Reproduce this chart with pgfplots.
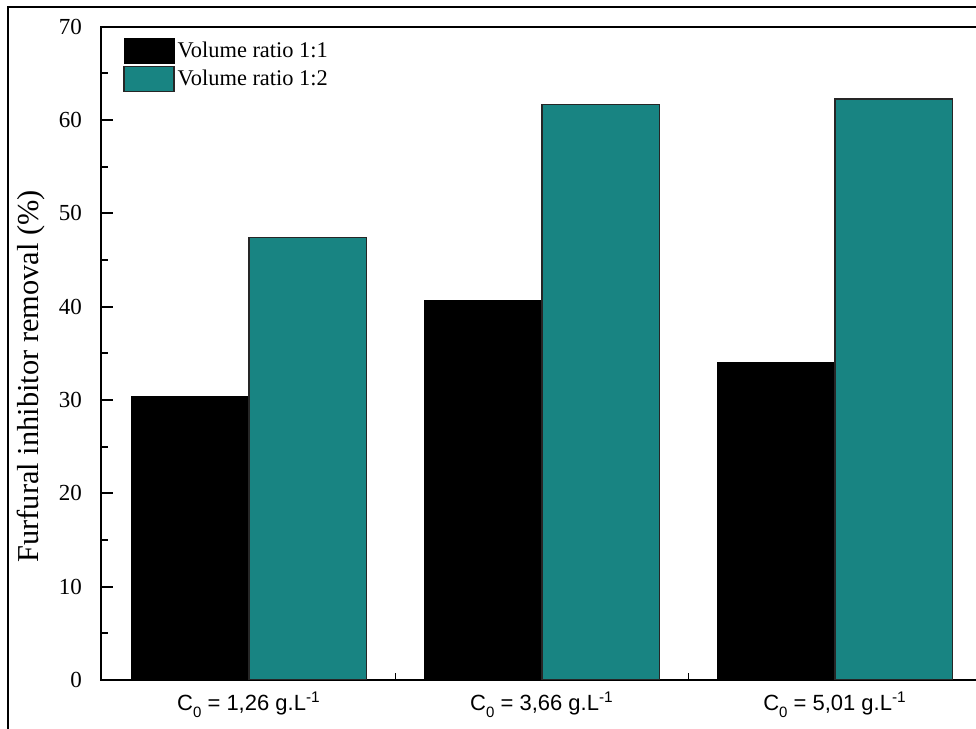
\documentclass[border=0pt]{standalone}
\usepackage{fontspec}
\setmainfont{Liberation Serif}
\newfontfamily\arialf{Liberation Sans}
\usepackage{pgfplots}
\pgfplotsset{compat=1.18}
\definecolor{tealbar}{RGB}{24,132,130}
\newcommand{\sub}[1]{\raisebox{-0.55ex}{\fontsize{7.5}{8}\selectfont #1}}
\begin{document}
\begin{tikzpicture}
\begin{axis}[
  at={(50.5pt,24.5pt)}, anchor=south west,
  scale only axis, width=441pt, height=326.67pt,
  xmin=-0.505, xmax=2.505, ymin=0, ymax=70,
  axis line style={line width=1pt},
  every tick/.style={line width=0.9pt, black},
  tick align=inside,
  major tick length=6pt, minor tick length=3.5pt,
  xtick={0,1,2},
  minor xtick={0.5,1.5},
  xtick pos=bottom, ytick pos=left,
  xticklabels={{\arialf C\sub{0} = 1,26 g.L\textsuperscript{-1}},{\arialf C\sub{0} = 3,66 g.L\textsuperscript{-1}},{\arialf C\sub{0} = 5,01 g.L\textsuperscript{-1}}},
  ytick={0,10,...,70},
  minor ytick={5,15,...,65},
  /pgf/number format/assume math mode=true,
  yticklabel style={font=\fontsize{11.5}{13}\selectfont, xshift=-6pt},
  xticklabel style={font=\fontsize{11}{13}\selectfont, yshift=-2.5pt},
  ylabel={Furfural inhibitor removal (\%)},
  every axis y label/.style={at={(axis description cs:-0.0794,0.465)}, rotate=90, anchor=center, font=\fontsize{15.2}{17}\selectfont},
  legend cell align=left,
  legend style={at={(axis description cs:0.025,0.983)}, anchor=north west, draw=none, fill=none, inner sep=0pt, row sep=1pt, font=\fontsize{11.2}{13}\selectfont, nodes={inner sep=1.5pt}},
  legend image code/.code={\draw[#1] (0pt,-6.25pt) rectangle (25pt,6.25pt);},
  bar width=0.4,
]
\addplot[ybar, bar shift=-0.2, fill=black, draw=black, line width=0.5pt] coordinates {(0,30.35) (1,40.7) (2,34.0)};
\addlegendentry{Volume ratio 1:1}
\addplot[ybar, bar shift=0.2, fill=tealbar, draw=black!85, line width=0.6pt] coordinates {(0,47.4) (1,61.7) (2,62.25)};
\addlegendentry{Volume ratio 1:2}
\end{axis}
\draw[line width=1pt] (4pt,-10pt) -- (4pt,361pt) -- (500pt,361pt);
\pgfresetboundingbox
\path[use as bounding box] (0pt,0pt) rectangle (488pt,364.5pt);
\end{tikzpicture}
\end{document}
